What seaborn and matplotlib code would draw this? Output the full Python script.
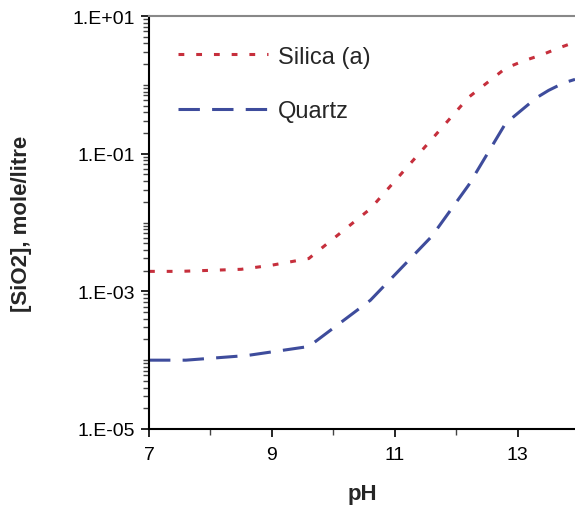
import matplotlib
matplotlib.use("Agg")
import matplotlib.pyplot as plt
import matplotlib.ticker as mticker
import numpy as np
import pandas as pd
import seaborn as sns

# ---- data ----
ph_silica = [7.0, 7.5, 8.5, 9.0, 9.6, 10.6, 11.6, 12.2, 12.8, 13.1, 13.4, 13.65, 13.93]
silica = [1.95e-3, 1.95e-3, 2.09e-3, 2.4e-3, 3.0e-3, 1.58e-2, 0.162, 0.66, 1.74, 2.24, 2.75, 3.39, 4.17]

ph_quartz = [7.0, 7.6, 8.6, 9.6, 10.6, 11.6, 12.2, 12.8, 13.3, 13.5, 13.75, 13.93]
quartz = [1.0e-4, 1.0e-4, 1.17e-4, 1.58e-4, 7.4e-4, 6.3e-3, 3.5e-2, 0.275, 0.646, 0.83, 1.07, 1.2]

series_labels = ["Silica (a)", "Quartz"]
x_ticks = [7, 9, 11, 13]
x_minor = [8, 10, 12, 14]
y_ticks = [1e-5, 1e-3, 1e-1, 1e1]
y_tick_labels = ["1.E-05", "1.E-03", "1.E-01", "1.E+01"]
x_label = "pH"
y_label = "[SiO2], mole/litre"

sns.set_style("ticks")
plt.rcParams["font.family"] = ["Liberation Sans", "DejaVu Sans"]

fig = plt.figure(figsize=(5.75, 5.06), dpi=100)
ax = fig.add_axes([149 / 575, 1 - 430 / 506, 426 / 575, 413 / 506])

df_s = pd.DataFrame({"pH": ph_silica, "c": silica})
df_q = pd.DataFrame({"pH": ph_quartz, "c": quartz})

sns.lineplot(data=df_s, x="pH", y="c", ax=ax, color="#c62f3c", lw=2.2,
             linestyle=(0, (1.9, 3.9)), label=series_labels[0])
sns.lineplot(data=df_q, x="pH", y="c", ax=ax, color="#3e4c9c", lw=2.2,
             linestyle=(0, (7.0, 4.0)), label=series_labels[1])

ax.set_yscale("log")
ax.set_xlim(7, 13.93)
ax.set_ylim(1e-5, 10)

ax.xaxis.set_major_locator(mticker.FixedLocator(x_ticks))
ax.xaxis.set_minor_locator(mticker.FixedLocator(x_minor))
ax.set_xticklabels([str(t) for t in x_ticks])

minor_y = []
for e in range(-5, 1):
    for s in range(1, 10):
        v = s * 10.0 ** e
        if v not in y_ticks:
            minor_y.append(v)
ax.yaxis.set_major_locator(mticker.FixedLocator(y_ticks))
ax.yaxis.set_minor_locator(mticker.FixedLocator(minor_y))
ax.yaxis.set_major_formatter(mticker.FixedFormatter(y_tick_labels))
ax.yaxis.set_minor_formatter(mticker.NullFormatter())

ax.tick_params(axis="both", which="major", direction="out", length=6, width=1.2,
               labelsize=14, colors="black")
ax.tick_params(axis="y", which="major", pad=4)
ax.tick_params(axis="x", which="major", pad=6)
ax.tick_params(axis="both", which="minor", direction="out", length=4.5, width=1.0,
               color="#444444")

for side in ["left", "bottom"]:
    ax.spines[side].set_color("black")
    ax.spines[side].set_linewidth(1.5)
ax.spines["top"].set_visible(True)
ax.spines["top"].set_color("#888888")
ax.spines["top"].set_linewidth(1.5)
ax.spines["right"].set_visible(False)

ax.set_xlabel(x_label, fontsize=16, fontweight="bold", labelpad=15)
ax.set_ylabel(y_label, fontsize=16, fontweight="bold", labelpad=29)

leg = ax.legend(loc="upper left", bbox_to_anchor=(0.068, 0.928), frameon=False,
                fontsize=17, handlelength=3.8, handletextpad=0.45,
                labelspacing=1.38, borderpad=0, borderaxespad=0)

fig.savefig("out.png", dpi=100)
